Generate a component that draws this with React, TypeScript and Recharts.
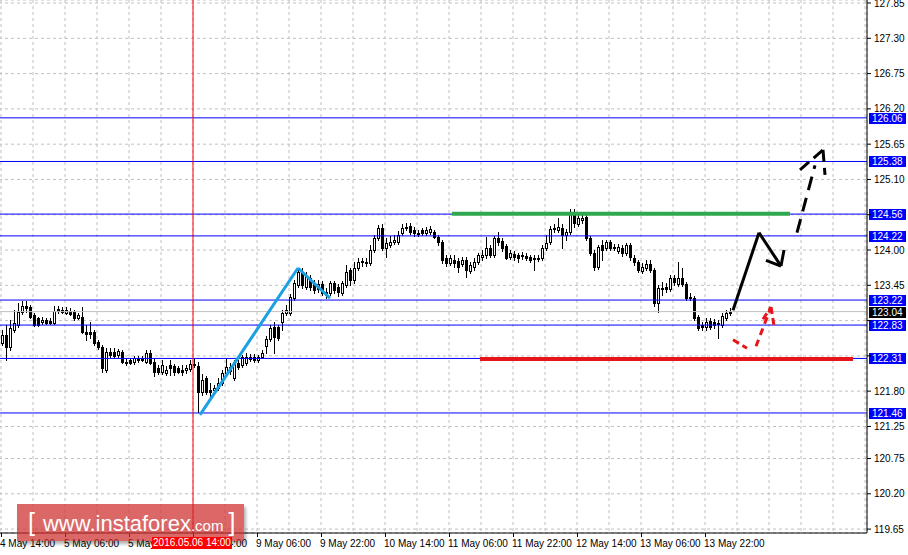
import React from 'react';
import { ComposedChart, Bar, XAxis, YAxis, CartesianGrid, ReferenceLine } from 'recharts';

const FONT = '"Liberation Sans", Arial, sans-serif';

// [open, high, low, close] per H1 bar
const ohlc: [number, number, number, number][] = [
  [122.55,122.75,122.52,122.68],[122.68,122.83,122.29,122.49],[122.49,122.91,122.44,122.78],[122.75,123.06,122.72,122.86],
  [122.83,123.17,122.80,123.03],[123.03,123.21,123.00,123.13],[123.13,123.21,123.03,123.10],[123.11,123.14,122.94,122.96],
  [122.99,123.02,122.82,122.83],[122.94,122.96,122.82,122.83],[122.88,122.96,122.85,122.91],[122.91,122.94,122.85,122.86],
  [122.89,122.94,122.85,122.86],[122.86,123.13,122.85,123.05],[123.08,123.13,123.02,123.05],[123.06,123.11,123.02,123.03],
  [123.02,123.11,123.00,123.06],[123.05,123.10,122.99,123.00],[123.03,123.06,122.91,122.94],[122.94,123.02,122.92,122.99],
  [122.96,123.11,122.71,122.72],[122.72,122.83,122.60,122.69],[122.72,122.88,122.63,122.69],[122.72,122.75,122.52,122.55],
  [122.57,122.60,122.46,122.49],[122.49,122.52,122.10,122.16],[122.13,122.47,122.10,122.41],[122.41,122.47,122.33,122.36],
  [122.41,122.47,122.32,122.35],[122.36,122.46,122.33,122.43],[122.41,122.44,122.24,122.25],[122.25,122.32,122.21,122.24],
  [122.29,122.32,122.22,122.24],[122.25,122.35,122.22,122.32],[122.32,122.35,122.25,122.29],[122.32,122.35,122.27,122.29],
  [122.25,122.44,122.24,122.40],[122.40,122.44,122.22,122.24],[122.25,122.32,122.04,122.10],[122.16,122.21,122.07,122.10],
  [122.10,122.29,122.07,122.21],[122.08,122.19,122.05,122.13],[122.21,122.29,122.05,122.16],[122.19,122.22,122.05,122.10],
  [122.16,122.19,122.08,122.10],[122.13,122.21,122.05,122.10],[122.13,122.21,122.08,122.16],[122.15,122.29,122.11,122.22],
  [122.22,122.32,122.18,122.21],[122.19,122.25,121.48,121.79],[121.79,122.07,121.74,121.97],[122.01,122.04,121.76,121.79],
  [121.82,121.93,121.72,121.79],[121.82,121.90,121.79,121.85],[121.85,122.01,121.82,121.93],[121.93,122.13,121.90,122.08],
  [122.08,122.32,122.05,122.18],[122.18,122.24,122.07,122.11],[122.01,122.29,121.97,122.25],[122.24,122.29,122.15,122.18],
  [122.21,122.36,122.18,122.33],[122.24,122.40,122.21,122.33],[122.33,122.38,122.27,122.30],[122.33,122.38,122.25,122.29],
  [122.29,122.36,122.25,122.33],[122.33,122.44,122.32,122.40],[122.50,122.66,122.40,122.61],[122.61,122.83,122.58,122.78],
  [122.80,122.88,122.40,122.64],[122.80,122.83,122.60,122.63],[122.88,123.06,122.75,123.02],[123.02,123.14,122.99,123.06],
  [123.02,123.31,122.99,123.27],[123.25,123.53,123.22,123.49],[123.45,123.72,123.42,123.66],[123.64,123.72,123.41,123.45],
  [123.42,123.66,123.39,123.60],[123.56,123.61,123.38,123.42],[123.49,123.53,123.33,123.38],[123.39,123.53,123.35,123.47],
  [123.47,123.52,123.30,123.33],[123.35,123.41,123.25,123.30],[123.33,123.52,123.30,123.49],[123.49,123.52,123.33,123.38],
  [123.42,123.47,123.28,123.35],[123.33,123.52,123.30,123.49],[123.45,123.77,123.42,123.66],[123.69,123.72,123.45,123.53],
  [123.53,123.81,123.49,123.72],[123.72,123.88,123.69,123.81],[123.81,123.88,123.75,123.83],[123.80,123.88,123.75,123.81],
  [123.80,124.08,123.77,124.00],[124.00,124.23,123.97,124.19],[124.19,124.39,124.16,124.34],[124.34,124.41,124.00,124.03],
  [124.03,124.19,123.89,124.11],[124.08,124.22,124.05,124.12],[124.12,124.23,124.09,124.16],[124.12,124.30,124.09,124.23],
  [124.27,124.41,124.23,124.34],[124.36,124.42,124.31,124.34],[124.37,124.42,124.25,124.28],[124.31,124.36,124.22,124.27],
  [124.27,124.31,124.22,124.25],[124.31,124.34,124.23,124.27],[124.27,124.36,124.23,124.31],[124.28,124.37,124.25,124.33],
  [124.28,124.31,124.19,124.20],[124.20,124.23,124.08,124.12],[124.12,124.16,123.80,123.84],[123.88,123.92,123.75,123.80],
  [123.80,123.92,123.77,123.88],[123.84,123.92,123.74,123.80],[123.83,123.88,123.66,123.74],[123.78,123.89,123.75,123.84],
  [123.84,123.89,123.58,123.69],[123.67,123.81,123.64,123.77],[123.74,123.88,123.69,123.81],[123.81,123.95,123.78,123.92],
  [123.89,124.00,123.84,123.92],[123.92,124.20,123.88,124.03],[124.03,124.08,123.89,123.92],[123.92,124.22,123.89,124.19],
  [124.19,124.28,124.08,124.12],[124.14,124.19,123.98,124.03],[124.06,124.09,123.86,123.88],[123.89,124.00,123.86,123.95],
  [123.94,123.98,123.84,123.89],[123.92,123.95,123.81,123.88],[123.92,123.97,123.86,123.91],[123.91,123.95,123.84,123.88],
  [123.89,123.92,123.81,123.84],[123.88,123.92,123.69,123.86],[123.86,123.92,123.83,123.88],[123.88,124.08,123.84,124.03],
  [124.03,124.23,124.00,124.11],[124.12,124.37,124.09,124.33],[124.34,124.41,124.28,124.33],[124.31,124.50,124.28,124.36],
  [124.34,124.41,124.03,124.23],[124.23,124.33,124.16,124.28],[124.28,124.64,124.25,124.58],[124.59,124.64,124.36,124.42],
  [124.41,124.56,124.37,124.50],[124.47,124.56,124.42,124.50],[124.51,124.55,124.16,124.19],[124.19,124.22,123.92,123.95],
  [123.95,124.00,123.69,123.74],[123.74,124.08,123.70,124.05],[124.08,124.16,123.84,124.00],[124.03,124.16,124.00,124.12],
  [124.12,124.16,124.00,124.03],[124.05,124.09,124.00,124.03],[123.98,124.09,123.95,124.05],[124.03,124.08,123.91,123.95],
  [123.95,124.11,123.92,124.08],[124.08,124.11,123.84,123.89],[123.88,123.92,123.77,123.81],[123.81,123.84,123.66,123.69],
  [123.67,123.80,123.64,123.74],[123.72,123.84,123.69,123.78],[123.78,123.84,123.66,123.69],[123.69,123.72,123.13,123.17],
  [123.17,123.45,123.03,123.41],[123.39,123.50,123.30,123.41],[123.42,123.49,123.35,123.39],[123.39,123.61,123.36,123.56],
  [123.56,123.61,123.45,123.50],[123.47,123.81,123.44,123.56],[123.56,123.72,123.44,123.47],[123.47,123.50,123.22,123.25],
  [123.27,123.33,123.22,123.25],[123.25,123.28,122.91,122.94],[122.96,122.99,122.75,122.78],[122.83,122.88,122.75,122.80],
  [122.80,122.94,122.75,122.88],[122.89,122.94,122.77,122.80],[122.88,122.92,122.78,122.83],[122.86,122.91,122.63,122.85],
  [122.83,123.02,122.80,122.97],[122.94,123.06,122.91,123.02],[123.02,123.10,122.99,123.04],
];

const totalSlots = 217;
const gridTicks = [0,8,16,24,32,40,48,56,64,72,80,88,96,104,112,120,128,136,144,152,160,168,176,184,192,200,208,216];
const xTickLabels = ['4 May 14:00','5 May 06:00','5 May 22:00','6 May 14:00','9 May 06:00','9 May 22:00','10 May 14:00','11 May 06:00','11 May 22:00','12 May 14:00','13 May 06:00','13 May 22:00'];
const yTickValues = [127.85,127.30,126.75,126.20,125.65,125.10,124.55,124.00,123.45,122.90,122.35,121.80,121.25,120.75,120.20,119.65];
const hiddenYTicks = [124.55,122.90,122.35];
const levelValues = [126.06,125.38,124.56,124.22,123.22,122.83,122.31,121.46];
const bidPrice = 123.04;
const cursorBar = 48;
const cursorLabel = '2016.05.06 14:00';

// drawn annotations: [bar position, price]
const blueWave: [number, number][] = [[49.75,121.43],[74.25,123.72],[82.25,123.25]];
const greenLine: [number, number][] = [[112.75,124.565],[197.25,124.565]];
const redLine: [number, number][] = [[119.75,122.30],[213,122.30]];
const blackArrow: [number, number][] = [[183,123.06],[189.5,124.27],[195,123.75]];
const blackArrowHeadA: [number, number][] = [[191.25,123.84],[195,123.75]];
const blackArrowHeadB: [number, number][] = [[195.75,124.0],[195,123.75]];
const blackDashed: [number, number][] = [[199,124.27],[203.5,125.32]];
const blackDashedHead: [number, number][] = [[199.75,125.25],[205.5,125.56],[206,125.17]];
const redDashedA: [number, number][] = [[183,122.60],[186.5,122.47]];
const redDashedB: [number, number][] = [[188.75,122.50],[192.5,123.11]];
const redDashedHead: [number, number][] = [[190.5,122.92],[192.5,123.11],[193.25,122.82]];

const data = Array.from({ length: totalSlots }, (_, i) => {
  const c = ohlc[i];
  return c ? { i, o: c[0], h: c[1], l: c[2], c: c[3], range: [c[2], c[1]] } : { i, range: null };
});

function Candle(props: any) {
  const { x, y, width, height, payload } = props;
  if (!payload || payload.o == null || !isFinite(y) || !isFinite(height)) return null;
  const top = Math.min(y, y + height);
  const hp = Math.abs(height);
  const span = payload.h - payload.l;
  const k = span > 0 ? hp / span : 0;
  const cx = Math.round(x + width / 2) + 0.5;
  const yHigh = Math.round(top);
  const yLow = Math.round(top + hp);
  const bTop = Math.round(top + (payload.h - Math.max(payload.o, payload.c)) * k);
  const bBot = Math.round(top + (payload.h - Math.min(payload.o, payload.c)) * k);
  const bull = payload.c >= payload.o;
  return (
    <g>
      <line x1={cx} x2={cx} y1={yHigh} y2={yLow + 1} stroke="#000" strokeWidth={1} />
      {bBot - bTop < 1 ? (
        <line x1={cx - 1.5} x2={cx + 1.5} y1={bTop + 0.5} y2={bTop + 0.5} stroke="#000" strokeWidth={1} />
      ) : (
        <rect x={cx - 1} y={bTop + 0.5} width={2} height={bBot - bTop} fill={bull ? '#fff' : '#000'} stroke="#000" strokeWidth={1} />
      )}
    </g>
  );
}

function YTick(props: any) {
  const { x, y, payload } = props;
  if (hiddenYTicks.includes(payload.value)) return <g />;
  return (
    <text x={x} y={y} dy={3.5} fontSize={10} fontFamily={FONT} fill="#000" textAnchor="start">
      {Number(payload.value).toFixed(2)}
    </text>
  );
}

function XTick(props: any) {
  const { x, y, payload } = props;
  const idx = payload.value;
  if (idx % 16 !== 0) return <g />;
  const label = xTickLabels[idx / 16];
  if (!label) return <g />;
  const px = Math.round(x) + 0.5;
  return (
    <g>
      <line x1={px} x2={px} y1={y} y2={y + 4} stroke="#000" />
      <text x={x - 1} y={y + 14} fontSize={10} fontFamily={FONT} fill="#000" textAnchor="start">{label}</text>
    </g>
  );
}

function LevelLabel(props: any) {
  const { viewBox, text, bg } = props;
  if (!viewBox) return null;
  const x = viewBox.x + viewBox.width + 2;
  const y = Math.round(viewBox.y);
  return (
    <g>
      <rect x={x} y={y - 5} width={37} height={11} fill={bg} />
      <text x={x + 3} y={y + 4} fontSize={10} fontFamily={FONT} fill="#fff">{text}</text>
    </g>
  );
}

function segs(pts: [number, number][], key: string, stroke: string, width: number, dash?: string) {
  return pts.slice(1).map((p, j) => (
    <ReferenceLine
      key={key + j}
      xAxisId="num"
      segment={[{ x: pts[j][0], y: pts[j][1] }, { x: p[0], y: p[1] }]}
      stroke={stroke}
      strokeWidth={width}
      strokeDasharray={dash}
      ifOverflow="visible"
    />
  ));
}

export default function App() {
  return (
    <div style={{ position: 'absolute', left: 0, top: 0, width: 908, height: 555, overflow: 'hidden', background: '#fff' }}>
      <div style={{ position: 'absolute', left: -1, top: 0 }}>
        <ComposedChart width={909} height={555} data={data} margin={{ top: 0, right: 0, bottom: 0, left: 0 }}>
          <CartesianGrid stroke="#C0C0C0" strokeDasharray="3 3" />
          <XAxis dataKey="i" type="category" ticks={gridTicks} interval={0} tickLine={false} tickSize={0} tickMargin={0}
            axisLine={{ stroke: '#000' }} tick={<XTick />} height={22} />
          <XAxis xAxisId="num" dataKey="i" type="number" domain={[-0.5, 216.5]} hide allowDataOverflow />
          <YAxis orientation="right" type="number" domain={[119.589, 127.897]} allowDataOverflow ticks={yTickValues}
            interval={0} width={41} axisLine={{ stroke: '#000' }} tickLine={{ stroke: '#000' }} tickSize={4} tickMargin={3}
            tick={<YTick />} />
          <ReferenceLine y={bidPrice} stroke="#C0C0C0" label={<LevelLabel text={bidPrice.toFixed(2)} bg="#000" />} />
          <Bar dataKey="range" barSize={3} shape={<Candle />} isAnimationActive={false} />
          {levelValues.map((v) => (
            <ReferenceLine key={'lv' + v} y={v} stroke="#0000FF" label={<LevelLabel text={v.toFixed(2)} bg="#0000FF" />} />
          ))}
          <ReferenceLine x={cursorBar} stroke="#FF0000" />
          {segs(blueWave, 'bw', '#1CA0E3', 3)}
          {segs(greenLine, 'gl', '#2FA84F', 4)}
          {segs(redLine, 'rl', '#E8141C', 4)}
          {segs(blackArrow, 'ba', '#000', 3)}
          {segs(blackArrowHeadA, 'bha', '#000', 3)}
          {segs(blackArrowHeadB, 'bhb', '#000', 3)}
          {segs(blackDashed, 'bd', '#000', 3, '14 8')}
          {segs(blackDashedHead, 'bdh', '#000', 3, '12 6')}
          {segs(redDashedA, 'rda', '#E8141C', 3, '7 4')}
          {segs(redDashedB, 'rdb', '#E8141C', 3, '7 5')}
          {segs(redDashedHead, 'rdh', '#E8141C', 3, '7 4')}
        </ComposedChart>
      </div>
      <div style={{ position: 'absolute', left: 17, top: 504, width: 227, height: 37, background: 'rgba(205,45,45,0.72)',
        boxShadow: '2px 3px 3px rgba(0,0,0,0.3)', fontFamily: FONT, color: '#fff', whiteSpace: 'nowrap' }}>
        <div style={{ position: 'absolute', left: 11, top: 3, lineHeight: '30px' }}>
          <span style={{ fontSize: 25 }}>[</span>
          <span style={{ fontSize: 22, marginLeft: 8 }}>www.instaforex</span>
          <span style={{ fontSize: 15 }}>.com</span>
          <span style={{ fontSize: 25, marginLeft: 5 }}>]</span>
        </div>
      </div>
      <div style={{ position: 'absolute', left: 152, top: 537, width: 80, height: 12, background: '#FF0000', color: '#fff',
        fontFamily: FONT, fontSize: 10, lineHeight: '12px', textAlign: 'center' }}>{cursorLabel}</div>
    </div>
  );
}
